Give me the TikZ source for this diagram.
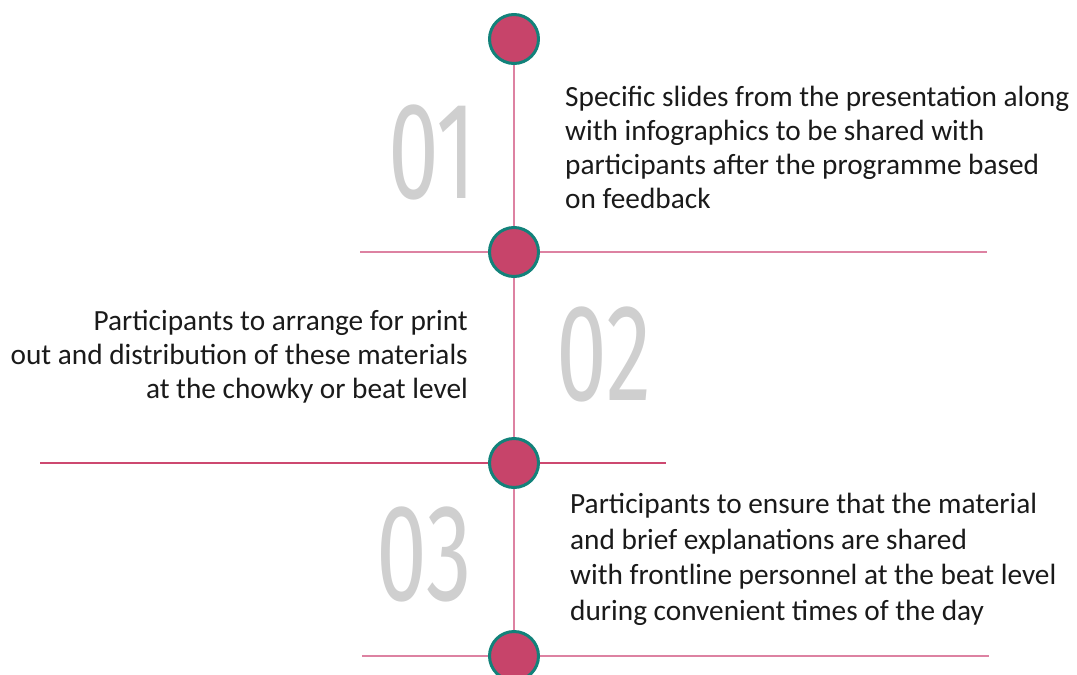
\documentclass[tikz,border=0pt]{standalone}
\usepackage{fontspec}
\setmainfont{Carlito}
\newfontfamily\numfont{Fira Sans}
\usetikzlibrary{positioning}
\definecolor{dotpink}{RGB}{199,68,106}
\definecolor{dotteal}{RGB}{18,130,122}
\definecolor{linepink}{RGB}{221,130,162}
\definecolor{midpink}{RGB}{205,72,112}
\definecolor{numgray}{RGB}{207,207,207}
\definecolor{inktext}{RGB}{26,26,26}

\begin{document}
\begin{tikzpicture}[x=1pt,y=-1pt,line join=round,
 dot/.style={circle,fill=dotpink,draw=dotteal,line width=3pt,minimum size=49pt,inner sep=0pt},
 rule/.style={draw=linepink,line width=2pt},
 numlabel/.style={text=numgray,font=\numfont\fontsize{138}{138}\selectfont,inner sep=0pt,anchor=base},
 note/.style={text=inktext,font=\fontsize{29.3}{34}\selectfont,inner sep=0pt}]
 \useasboundingbox (0,0) rectangle (1077,675);
 % timeline dots
 \node[dot] (c1) at (514,39) {};
 \node[dot] (c2) at (514,252) {};
 \node[dot] (c3) at (514,463) {};
 \node[dot] (c4) at (514,656) {};
 % ends of the cross rules
 \coordinate (r2l) at (360,252);\coordinate (r2r) at (987,252);
 \coordinate (r3l) at (40,463);\coordinate (r3r) at (666,463);
 \coordinate (r4l) at (362,656);\coordinate (r4r) at (989,656);
 \draw[rule] (c1)--(c2) (c2)--(c3) (c3)--(c4);
 \draw[rule] (c2.west)--(r2l) (c2.east)--(r2r);
 \draw[rule,draw=midpink] (c3.west)--(r3l) (c3.east)--(r3r);
 \draw[rule] (c4.west)--(r4l) (c4.east)--(r4r);
 % step numbers
 \node[numlabel] (n1) at (432,198) {\scalebox{0.66}[1]{01}};
 \node[numlabel] (n2) at (604,400) {\scalebox{0.66}[1]{02}};
 \node[numlabel] (n3) at (424,600) {\scalebox{0.66}[1]{03}};
 % step texts
 \node[note,align=left,anchor=north west] (t1) at (565,86)
  {Specific slides from the presentation along\\with infographics to be shared with\\participants after the programme based\\on feedback};
 \node[note,align=right,anchor=north east] (t2) at (468,310)
  {Participants to arrange for print\\out and distribution of these materials\\at the chowky or beat level};
 \node[note,align=left,anchor=north west,font=\fontsize{29.3}{35.5}\selectfont] (t3) at (570,493)
  {Participants to ensure that the material\\and brief explanations are shared\\with frontline personnel at the beat level\\during convenient times of the day};
\end{tikzpicture}
\end{document}
